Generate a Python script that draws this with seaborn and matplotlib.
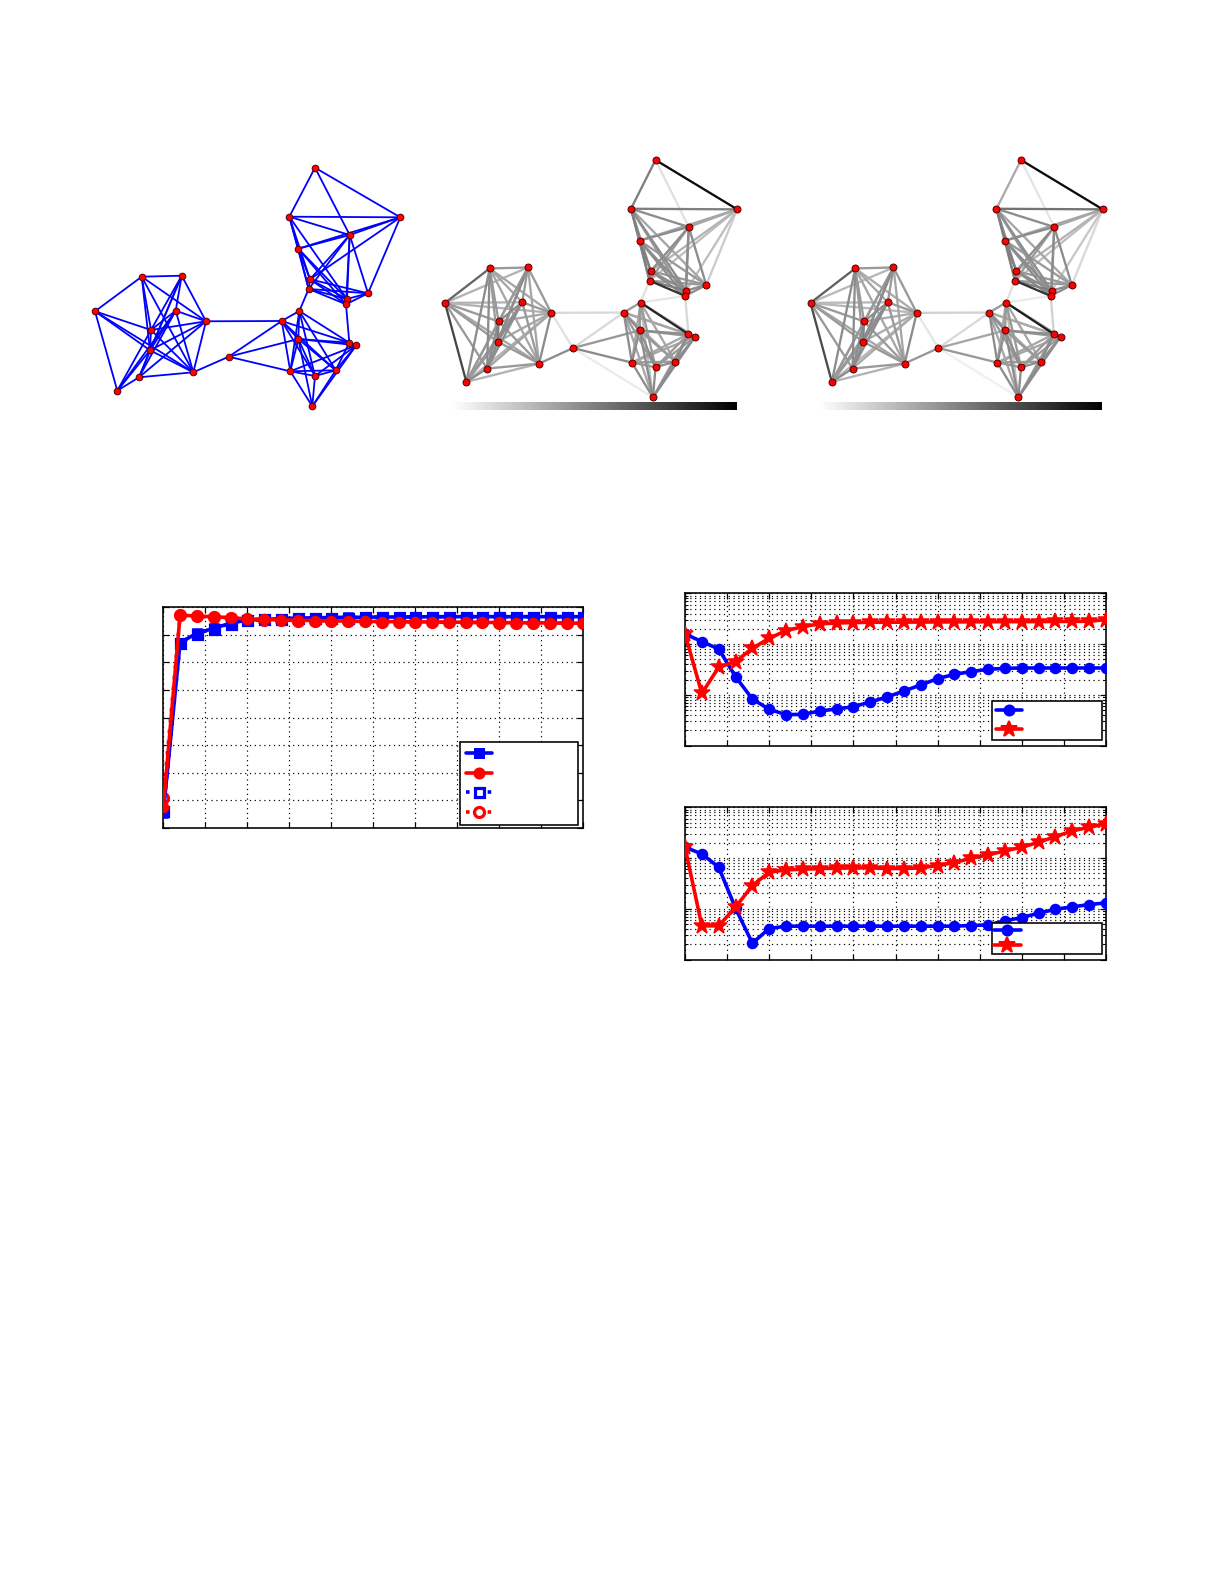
import numpy as np
import pandas as pd
import matplotlib
matplotlib.use("Agg")
import matplotlib.pyplot as plt
import seaborn as sns
from matplotlib.collections import LineCollection
from matplotlib.colors import Normalize
from matplotlib.lines import Line2D
from matplotlib.ticker import MultipleLocator, LogLocator, NullFormatter
import matplotlib.colorbar as mcolorbar

# ---------------- data ----------------
# node layout (shared by the three network panels)
NODE_X = [141.7, 181.7, 95.0, 175.7, 206.0, 151.0, 150.0, 139.0, 117.3, 193.3,
          228.7,
          281.7, 299.3, 298.3, 349.3, 356.3, 290.3, 315.0, 335.7, 312.3,
          315.0, 289.3, 400.3, 349.7, 298.3, 310.0, 308.7, 347.0, 346.0, 368.0]
NODE_Y = [276.7, 275.7, 311.3, 310.7, 321.3, 330.0, 350.3, 377.3, 390.7, 372.3,
          356.7,
          321.0, 311.0, 339.0, 342.7, 345.3, 371.3, 376.0, 370.3, 406.3,
          167.7, 216.7, 217.3, 235.0, 248.7, 279.3, 289.0, 299.0, 304.3, 293.3]

# edges of the original graph (panel 1)
EDGES_1 = [(0, 1), (0, 2), (0, 5), (0, 6), (0, 4), (0, 9),
           (2, 5), (2, 8), (2, 6), (2, 9),
           (1, 3), (1, 4), (1, 5), (1, 6), (1, 7),
           (3, 4), (3, 5), (3, 6), (3, 7), (3, 8), (3, 9),
           (4, 5), (4, 6), (4, 9), (4, 7),
           (5, 6), (5, 8), (5, 9), (6, 8), (6, 7), (6, 9), (7, 9), (7, 8),
           (4, 11), (9, 10), (10, 11), (10, 13), (10, 16),
           (11, 12), (11, 13), (11, 16), (11, 17), (11, 18), (11, 14),
           (12, 13), (12, 14), (12, 16), (12, 17), (12, 18), (12, 26),
           (13, 14), (13, 15), (13, 16), (13, 17), (13, 18), (13, 19),
           (14, 18), (14, 15), (14, 28),
           (15, 18), (15, 17), (15, 19), (15, 16),
           (16, 17), (16, 18), (16, 19), (17, 18), (17, 19), (18, 19),
           (20, 21), (20, 22), (20, 23),
           (21, 22), (21, 23), (21, 24), (21, 25), (21, 26), (21, 27),
           (22, 23), (22, 24), (22, 25), (22, 29),
           (23, 24), (23, 25), (23, 26), (23, 27), (23, 29), (23, 28),
           (24, 25), (24, 26), (24, 27), (24, 28),
           (25, 26), (25, 27), (25, 28), (25, 29),
           (26, 27), (26, 28), (26, 29), (27, 28), (27, 29), (28, 29)]

# weighted edges for panels 2 and 3: (i, j, weight panel 2, weight panel 3)
EDGES_W = [
    (0, 1, .40, .40), (0, 2, .60, .62), (0, 3, .35, .35), (0, 4, .35, .33), (0, 5, .40, .40),
    (0, 6, .40, .40), (0, 7, .45, .45), (0, 8, .45, .45), (0, 9, .35, .35),
    (1, 2, .30, .28), (1, 3, .40, .40), (1, 4, .40, .40), (1, 5, .40, .40), (1, 6, .45, .45),
    (1, 7, .45, .45), (1, 8, .35, .35), (1, 9, .35, .35),
    (2, 3, .30, .28), (2, 4, .30, .28), (2, 5, .40, .40), (2, 6, .40, .40), (2, 7, .40, .40),
    (2, 8, .72, .70), (2, 9, .35, .35),
    (3, 4, .40, .40), (3, 5, .45, .45), (3, 6, .45, .45), (3, 7, .45, .45), (3, 8, .40, .40),
    (3, 9, .40, .40),
    (4, 5, .35, .33), (4, 6, .35, .33), (4, 7, .35, .33), (4, 8, .30, .28), (4, 9, .45, .45),
    (5, 6, .50, .48), (5, 7, .45, .45), (5, 8, .40, .40), (5, 9, .40, .40),
    (6, 7, .45, .45), (6, 8, .40, .40), (6, 9, .40, .40),
    (7, 8, .45, .45), (7, 9, .40, .40), (8, 9, .30, .30),
    (4, 11, .15, .18), (9, 10, .45, .40), (4, 10, .12, .10), (10, 11, .15, .15),
    (10, 13, .40, .35), (10, 16, .45, .40), (10, 19, .08, .06),
    (12, 26, .12, .12), (14, 28, .15, .18), (12, 28, .10, .08),
    (11, 12, .40, .40), (11, 13, .45, .45), (11, 14, .35, .33), (11, 15, .30, .30),
    (11, 16, .45, .45), (11, 17, .40, .40), (11, 18, .35, .35), (11, 19, .35, .35),
    (12, 13, .40, .40), (12, 14, .85, .88), (12, 15, .30, .30), (12, 16, .35, .35),
    (12, 17, .40, .40), (12, 18, .35, .35), (12, 19, .25, .25),
    (13, 14, .45, .45), (13, 15, .40, .40), (13, 16, .45, .45), (13, 17, .45, .45),
    (13, 18, .40, .40), (13, 19, .45, .45),
    (14, 15, .50, .50), (14, 16, .35, .35), (14, 17, .40, .40), (14, 18, .45, .45),
    (14, 19, .40, .40),
    (15, 16, .35, .35), (15, 17, .40, .40), (15, 18, .45, .45), (15, 19, .45, .45),
    (16, 17, .40, .40), (16, 18, .40, .40), (16, 19, .45, .45),
    (17, 18, .45, .45), (17, 19, .45, .45), (18, 19, .45, .45),
    (20, 21, .50, .33), (20, 22, .95, .95), (20, 23, .12, .10),
    (21, 22, .50, .55), (21, 23, .45, .45), (21, 24, .50, .50), (21, 25, .45, .45),
    (21, 26, .45, .45), (21, 27, .45, .45), (21, 28, .40, .40), (21, 29, .35, .35),
    (22, 23, .35, .35), (22, 24, .35, .35), (22, 25, .30, .30), (22, 26, .25, .25),
    (22, 27, .25, .22), (22, 29, .20, .15),
    (23, 24, .45, .45), (23, 25, .45, .45), (23, 26, .40, .40), (23, 27, .45, .45),
    (23, 28, .40, .40), (23, 29, .45, .45),
    (24, 25, .50, .50), (24, 26, .50, .50), (24, 27, .45, .45), (24, 28, .45, .45),
    (24, 29, .40, .40),
    (25, 26, .45, .45), (25, 27, .45, .45), (25, 28, .45, .45), (25, 29, .40, .40),
    (26, 27, .50, .50), (26, 28, .80, .80), (26, 29, .40, .40),
    (27, 28, .50, .50), (27, 29, .45, .45), (28, 29, .45, .45)]

# line charts
ITER = [0, 2, 4, 6, 8, 10, 12, 14, 16, 18, 20, 22, 24, 26, 28, 30, 32, 34, 36, 38,
        40, 42, 44, 46, 48, 50]

LEFT_BLUE = [0.2555, 0.872, 0.906, 0.924, 0.942, 0.954, 0.956, 0.959, 0.961, 0.962,
             0.963, 0.964, 0.964, 0.965, 0.965, 0.965, 0.966, 0.966, 0.966, 0.966,
             0.966, 0.966, 0.966, 0.966, 0.966, 0.966]
LEFT_RED = [0.275, 0.972, 0.968, 0.966, 0.962, 0.958, 0.956, 0.954, 0.953, 0.952,
            0.951, 0.950, 0.949, 0.948, 0.948, 0.947, 0.947, 0.946, 0.946, 0.945,
            0.945, 0.944, 0.944, 0.943, 0.943, 0.942]
LEFT_BLUE_DOT = [0.262, 0.870, 0.905, 0.923, 0.941, 0.953, 0.956, 0.958, 0.960, 0.961,
                 0.962, 0.963, 0.964, 0.964, 0.965, 0.965, 0.965, 0.966, 0.966, 0.966,
                 0.966, 0.966, 0.966, 0.966, 0.966, 0.966]
LEFT_RED_DOT = [0.310, 0.971, 0.967, 0.965, 0.961, 0.957, 0.955, 0.954, 0.952, 0.951,
                0.950, 0.949, 0.949, 0.948, 0.947, 0.947, 0.946, 0.946, 0.945, 0.945,
                0.944, 0.944, 0.943, 0.943, 0.942, 0.942]

TOP_BLUE = [0.1585, 0.1119, 0.0802, 0.02286, 0.008299, 0.005200, 0.004083, 0.004140,
            0.004819, 0.005272, 0.005861, 0.007244, 0.009099, 0.01194, 0.01567,
            0.02089, 0.02541, 0.02871, 0.03192, 0.03334, 0.03388, 0.03388, 0.03388,
            0.03388, 0.03388, 0.03388]
TOP_RED = [0.1585, 0.01074, 0.03491, 0.04519, 0.08260, 0.1300, 0.1841, 0.2208, 0.2495,
           0.2606, 0.2649, 0.2692, 0.2692, 0.2704, 0.2716, 0.2729, 0.2735, 0.2742,
           0.2754, 0.2761, 0.2767, 0.2773, 0.2786, 0.2799, 0.2812, 0.3034]

BOT_BLUE = [0.1633, 0.1205, 0.06592, 0.01026, 0.002099, 0.004083, 0.004539, 0.004539,
            0.004539, 0.004539, 0.004539, 0.004539, 0.004539, 0.004539, 0.004539,
            0.004539, 0.004539, 0.004677, 0.004819, 0.005781, 0.006714, 0.008185,
            0.009795, 0.01089, 0.01211, 0.01306]
BOT_RED = [0.1633, 0.004603, 0.004603, 0.01074, 0.02871, 0.05248, 0.05834, 0.06012,
           0.06209, 0.06295, 0.06397, 0.06397, 0.06209, 0.06209, 0.06397, 0.07112,
           0.08147, 0.09908, 0.1153, 0.1384, 0.1633, 0.2046, 0.2649, 0.3428, 0.4046,
           0.4699]

# ---------------- figure ----------------
sns.set_style("ticks", {"xtick.direction": "in", "ytick.direction": "in",
                        "axes.edgecolor": "black"})
plt.rcParams['font.family'] = ['DejaVu Sans']

W, H, DPI = 1225, 1585, 144
fig = plt.figure(figsize=(W / DPI, H / DPI), dpi=DPI)
fig.patch.set_facecolor("white")


def px_axes(x0, y0, x1, y1, **kw):
    return fig.add_axes([x0 / W, 1 - y1 / H, (x1 - x0) / W, (y1 - y0) / H], **kw)


BLUE = "#0000ff"
RED = "#ff0000"
cmap = plt.get_cmap("gray_r")
norm = Normalize(0, 1)
nodes = pd.DataFrame({"x": NODE_X, "y": NODE_Y})


def draw_nodes(ax, size):
    sns.scatterplot(data=nodes, x="x", y="y", ax=ax, color=RED, s=size,
                    edgecolor="#5a0000", linewidth=0.5, zorder=4, legend=False)


def setup_net_axes(ax):
    ax.set_xlim(80, 420)
    ax.set_ylim(420, 150)
    ax.set_axis_off()


# panel 1: plain graph
ax1 = px_axes(80, 150, 420, 420)
segs1 = [[(NODE_X[i], NODE_Y[i]), (NODE_X[j], NODE_Y[j])] for i, j in EDGES_1]
ax1.add_collection(LineCollection(segs1, colors=BLUE, linewidths=0.9, zorder=2))
draw_nodes(ax1, 11)
setup_net_axes(ax1)

# panels 2 and 3: weighted graphs
sx, sy = 0.957, 0.995
for k, shift in enumerate([0.0, 365.5]):
    x0 = 445 + (80 - 95) * sx + shift
    x1 = 445 + (420 - 95) * sx + shift
    y0 = 160 + (150 - 167.7) * sy
    y1 = 160 + (420 - 167.7) * sy
    ax = px_axes(x0, y0, x1, y1)
    order = sorted(EDGES_W, key=lambda e: e[2 + k])
    segs = [[(NODE_X[e[0]], NODE_Y[e[0]]), (NODE_X[e[1]], NODE_Y[e[1]])] for e in order]
    cols = [cmap(norm(e[2 + k])) for e in order]
    ax.add_collection(LineCollection(segs, colors=cols, linewidths=1.15, zorder=2))
    draw_nodes(ax, 12)
    setup_net_axes(ax)
    cax = px_axes(451.7 + shift * 1.0 + (1.0 if k else 0) * 1.1, 401.7,
                  737.3 + shift * 1.0 - (0.0 if k == 0 else 0.5), 409.5)
    cb = mcolorbar.ColorbarBase(cax, cmap=cmap, norm=norm, orientation="horizontal")
    cb.outline.set_visible(False)
    cax.set_xticks([])
    cax.set_yticks([])

GRID_KW = dict(color="black", linestyle=(0, (1, 3)), linewidth=0.6)


def style_axes(ax):
    for s in ax.spines.values():
        s.set_visible(True)
        s.set_color("black")
        s.set_linewidth(0.8)
    ax.tick_params(which="both", direction="in", top=True, right=True,
                   labelbottom=False, labelleft=False, color="black")
    ax.tick_params(which="major", length=3, width=0.6)
    ax.tick_params(which="minor", length=1.6, width=0.5)
    ax.set_xlabel("")
    ax.set_ylabel("")


def make_legend(ax, handles, x0, x1, top, spacing, pad):
    leg = ax.legend(handles, [""] * len(handles), loc="upper left", mode="expand",
                    bbox_to_anchor=(x0 / W, 1 - top / H, (x1 - x0) / W, 0.001),
                    bbox_transform=fig.transFigure, borderaxespad=0, fontsize=7,
                    labelspacing=spacing, borderpad=pad, handlelength=1.9,
                    handletextpad=0.4, fancybox=False, frameon=True, framealpha=1,
                    edgecolor="black")
    leg.get_frame().set_linewidth(0.8)
    leg.set_zorder(10)
    return leg


# ---------------- left line chart ----------------
axL = px_axes(163.3, 607.3, 583.3, 828.0)
dfL = pd.DataFrame({"it": ITER, "b": LEFT_BLUE, "r": LEFT_RED,
                    "bd": LEFT_BLUE_DOT, "rd": LEFT_RED_DOT})
LW = 1.8
sns.lineplot(data=dfL, x="it", y="bd", ax=axL, color=BLUE, linestyle=(0, (1, 2)),
             linewidth=LW, marker="s", markersize=4.5, markerfacecolor="white",
             markeredgecolor=BLUE, markeredgewidth=1.6, zorder=2)
sns.lineplot(data=dfL, x="it", y="rd", ax=axL, color=RED, linestyle=(0, (1, 2)),
             linewidth=LW, marker="o", markersize=5, markerfacecolor="white",
             markeredgecolor=RED, markeredgewidth=1.6, zorder=2)
sns.lineplot(data=dfL, x="it", y="b", ax=axL, color=BLUE, linewidth=LW, marker="s",
             markersize=4.5, markeredgecolor=BLUE, zorder=3)
sns.lineplot(data=dfL, x="it", y="r", ax=axL, color=RED, linewidth=LW, marker="o",
             markersize=5, markeredgecolor=RED, zorder=3)
axL.set_xlim(0, 50)
axL.set_ylim(0.2, 1.0)
axL.xaxis.set_major_locator(MultipleLocator(5))
axL.yaxis.set_major_locator(MultipleLocator(0.1))
axL.grid(True, which="major", **GRID_KW)
style_axes(axL)

hL = [Line2D([], [], color=BLUE, lw=LW, marker="s", ms=4.5, mec=BLUE),
      Line2D([], [], color=RED, lw=LW, marker="o", ms=5, mec=RED),
      Line2D([], [], color=BLUE, lw=LW, ls=(0, (1, 2)), marker="s", ms=4.5,
             mfc="white", mec=BLUE, mew=1.6),
      Line2D([], [], color=RED, lw=LW, ls=(0, (1, 2)), marker="o", ms=5,
             mfc="white", mec=RED, mew=1.6)]
make_legend(axL, hL, 460, 578.3, 743.3, 0.39, 0.4)


# ---------------- right log charts ----------------
def log_chart(y_top, y_bot, blue, red, leg_top, spacing, pad):
    ax = px_axes(685, y_top, 1106, y_bot)
    df = pd.DataFrame({"it": ITER, "b": blue, "r": red})
    sns.lineplot(data=df, x="it", y="b", ax=ax, color=BLUE, linewidth=LW, marker="o",
                 markersize=5, markeredgecolor=BLUE, zorder=3)
    sns.lineplot(data=df, x="it", y="r", ax=ax, color=RED, linewidth=LW, marker="*",
                 markersize=8.5, markeredgecolor=RED, zorder=3)
    ax.set_yscale("log")
    ax.set_xlim(0, 50)
    ax.set_ylim(1e-3, 1e0)
    ax.xaxis.set_major_locator(MultipleLocator(5))
    ax.yaxis.set_major_locator(LogLocator(base=10, numticks=10))
    ax.yaxis.set_minor_locator(LogLocator(base=10, subs=np.arange(2, 10), numticks=20))
    ax.yaxis.set_minor_formatter(NullFormatter())
    ax.grid(True, which="major", **GRID_KW)
    ax.grid(True, which="minor", axis="y", **GRID_KW)
    style_axes(ax)
    h = [Line2D([], [], color=BLUE, lw=LW, marker="o", ms=5, mec=BLUE),
         Line2D([], [], color=RED, lw=LW, marker="*", ms=8.5, mec=RED)]
    make_legend(ax, h, 992.3, 1101.7, leg_top, spacing, pad)
    return ax


log_chart(593.3, 745.7, TOP_BLUE, TOP_RED, 702.3, 0.34, 0.25)
log_chart(807.3, 959.5, BOT_BLUE, BOT_RED, 924.3, 0.02, 0.12)

fig.savefig("out.png", dpi=DPI, facecolor="white")
